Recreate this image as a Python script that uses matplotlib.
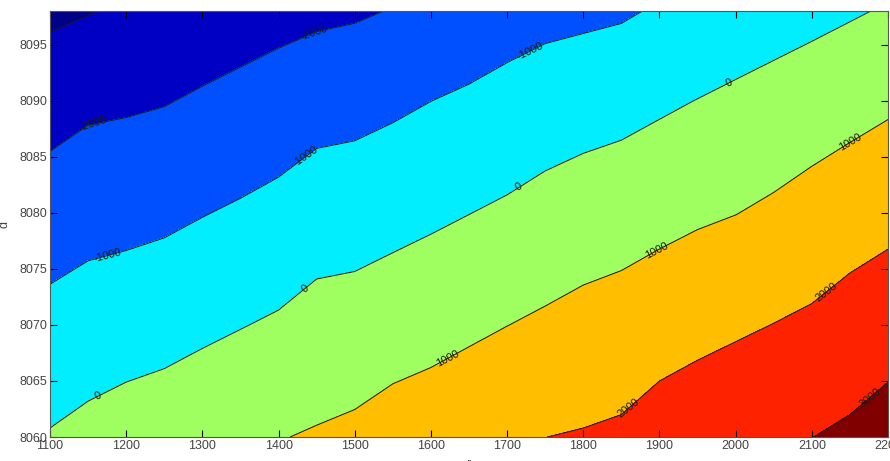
import numpy as np
import matplotlib.pyplot as plt

plt.rcParams['font.family'] = ['Liberation Sans', 'DejaVu Sans']

# grid (r along x, d along y)
r = [1100, 1150, 1200, 1250, 1300, 1350, 1400, 1450, 1500, 1550, 1600, 1650,
     1700, 1750, 1800, 1850, 1900, 1950, 2000, 2050, 2100, 2150, 2200]
d = [8060, 8070, 8080, 8090, 8100]

z_8060 = [62, 256, 421, 524, 675, 821, 966, 1079, 1198, 1408, 1521, 1682,
          1846, 1996, 2062, 2152, 2424, 2588, 2726, 2860, 2992, 3155, 3412]
z_8070 = [-708, -544, -438, -335, -179, -34, 111, 330, 391, 549, 681, 835,
          991, 1137, 1290, 1392, 1576, 1730, 1872, 2013, 2151, 2380, 2571]
z_8080 = [-1512, -1341, -1284, -1191, -1034, -889, -725, -475, -429, -303, -160, -13,
          136, 323, 475, 584, 726, 872, 983, 1155, 1359, 1560, 1726]
z_8090 = [-2402, -2183, -2126, -2045, -1889, -1744, -1588, -1388, -1317, -1170, -1005, -857,
          -712, -541, -420, -317, -144, 17, 162, 305, 495, 668, 854]
z_8100 = [-3382, -3258, -3097, -2955, -2744, -2598, -2465, -2380, -2305, -2162, -2020, -1820,
          -1559, -1441, -1386, -1307, -1106, -942, -692, -542, -439, -280, -117]

levels = [-4000, -3000, -2000, -1000, 0, 1000, 2000, 3000, 4000]
band_colors = ['#000088', '#0000c4', '#0050ff', '#00eeff',
               '#a0ff60', '#ffbf00', '#ff2200', '#800000']

# where the contour labels sit
label_pos = [(1157, 8087.6), (1446, 8096.1),
             (1175, 8076.3), (1432, 8085.4), (1732, 8094.1),
             (1162, 8063.9), (1436, 8073.1), (1718, 8082.0), (1992, 8091.6),
             (1622, 8067.0), (1896, 8076.7), (2149, 8086.5),
             (1859, 8062.6), (2117, 8073.1),
             (2175, 8063.6)]

R, D = np.meshgrid(r, d)
Z = np.array([z_8060, z_8070, z_8080, z_8090, z_8100])

fig = plt.figure(figsize=(8.9, 4.61), dpi=100)
ax = fig.add_axes([0.0562, 0.052, 0.9416, 0.924])

ax.contourf(R, D, Z, levels=levels, colors=band_colors)
cs = ax.contour(R, D, Z, levels=levels[1:-1], colors='#1a1a1a',
                linewidths=0.7, linestyles='solid')
ax.clabel(cs, fmt='%d', fontsize=8, inline=False, colors='#1a1a1a', manual=label_pos)

ax.set_xlim(1100, 2200)
ax.set_ylim(8060, 8098)
ax.set_xticks(range(1100, 2201, 100))
ax.set_yticks(range(8060, 8096, 5))
ax.tick_params(direction='in', length=5, width=0.8, top=True, right=True,
               labelsize=9, labelcolor='#444444', pad=2)
for s in ax.spines.values():
    s.set_color('#555555')
    s.set_linewidth(0.8)

ax.set_xlabel('r', fontsize=9, color='#444444')
ax.xaxis.set_label_coords(0.499, -0.05)
ax.set_ylabel('d', fontsize=9, color='#444444')
ax.yaxis.set_label_coords(-0.047, 0.5)

fig.savefig('out.png', dpi=100)
